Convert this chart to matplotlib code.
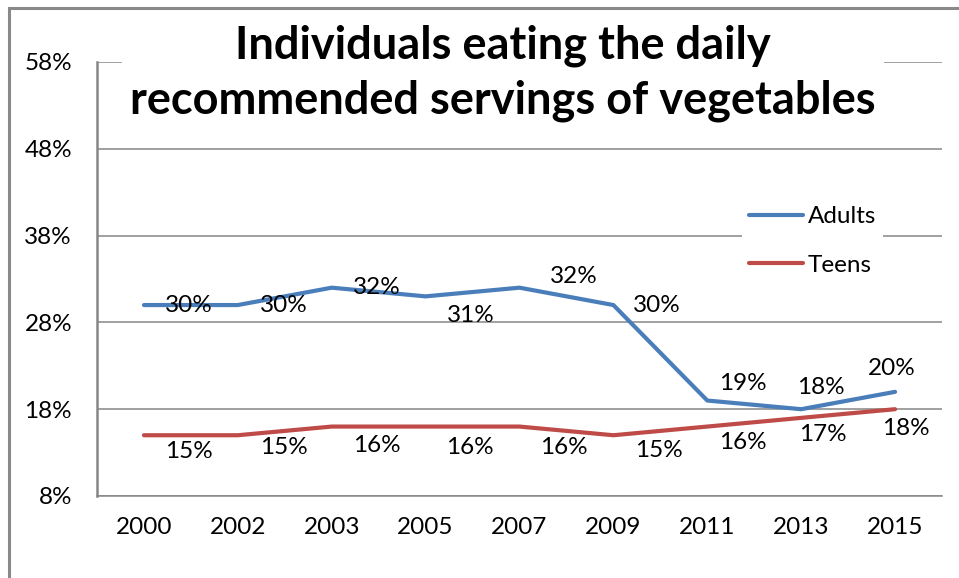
import matplotlib
matplotlib.use("Agg")
import matplotlib.pyplot as plt
from matplotlib.patches import Rectangle

years = ["2000", "2002", "2003", "2005", "2007", "2009", "2011", "2013", "2015"]
adults = [30, 30, 32, 31, 32, 30, 19, 18, 20]
teens = [15, 15, 16, 16, 16, 15, 16, 17, 18]
yticks = [8, 18, 28, 38, 48, 58]
title = "Individuals eating the daily\nrecommended servings of vegetables"

# label offsets in pixels (manual placement as in reference)
adult_off = [(45, 0), (46, 0), (45, 0), (45, -19), (54, 11), (43, 0), (36, 17), (20, 22), (-3, 23)]
teen_off = [(45, -16), (46, -12), (45, -19), (44, -21), (44, -21), (46, -15), (36, -16), (22, -17), (11, -19)]

FONT = "Lato"
FS = 17.5
blue = "#4A7EBB"
red = "#BE4B48"
grid = "#868686"

fig = plt.figure(figsize=(9.59, 5.78), dpi=100)
ax = fig.add_axes([97/959, 1-496/578, (942-97)/959, (496-62)/578])

x = list(range(len(years)))
ax.plot(x, adults, color=blue, lw=3, label="Adults", solid_capstyle="round", zorder=3)
ax.plot(x, teens, color=red, lw=3, label="Teens", solid_capstyle="round", zorder=3)

for i, v in enumerate(adults):
    ax.annotate(f"{v}%", (i, v), xytext=adult_off[i], textcoords="offset pixels",
                ha="center", va="center", fontsize=FS, family=FONT, color="black", zorder=4)
for i, v in enumerate(teens):
    ax.annotate(f"{v}%", (i, v), xytext=teen_off[i], textcoords="offset pixels",
                ha="center", va="center", fontsize=FS, family=FONT, color="black", zorder=4)

ax.set_xlim(-0.5, len(years) - 0.5)
ax.set_ylim(8, 58)
ax.set_yticks(yticks)
ax.set_yticklabels([f"{t}%" for t in yticks], family=FONT, fontsize=FS)
ax.set_xticks(x)
ax.set_xticklabels(years, family=FONT, fontsize=FS)
ax.tick_params(axis="both", length=0)
ax.tick_params(axis="y", pad=18)
ax.tick_params(axis="x", pad=15)
ax.grid(axis="y", color=grid, lw=1.1, zorder=0)
ax.set_axisbelow(True)
for s in ["top", "right"]:
    ax.spines[s].set_visible(False)
ax.spines["bottom"].set_color(grid)
ax.spines["bottom"].set_linewidth(1.1)
ax.spines["left"].set_color(grid)
ax.spines["left"].set_linewidth(1.8)

leg = ax.legend(loc="upper left", bbox_to_anchor=(742/959, 1-199/578), bbox_transform=fig.transFigure,
                prop={"family": FONT, "size": FS}, frameon=True, facecolor="white", edgecolor="none",
                framealpha=1, fancybox=False, handlelength=2.2, handletextpad=0.2, labelspacing=1.12,
                borderpad=0.3, borderaxespad=0)
leg.set_zorder(5)
for h in leg.get_lines():
    h.set_solid_capstyle("round")

fig.text(503/959, 1-73/578, title, ha="center", va="center", fontsize=32.5, fontweight="bold",
         family=FONT, linespacing=1.38,
         bbox=dict(facecolor="white", edgecolor="none", pad=6), zorder=6)

fig.patches.append(Rectangle((9/959, -0.1), 2, 1.1 - 8/578, transform=fig.transFigure,
                             fill=False, edgecolor="#898989", lw=2.2, zorder=10))

fig.savefig("out.png", dpi=100)
